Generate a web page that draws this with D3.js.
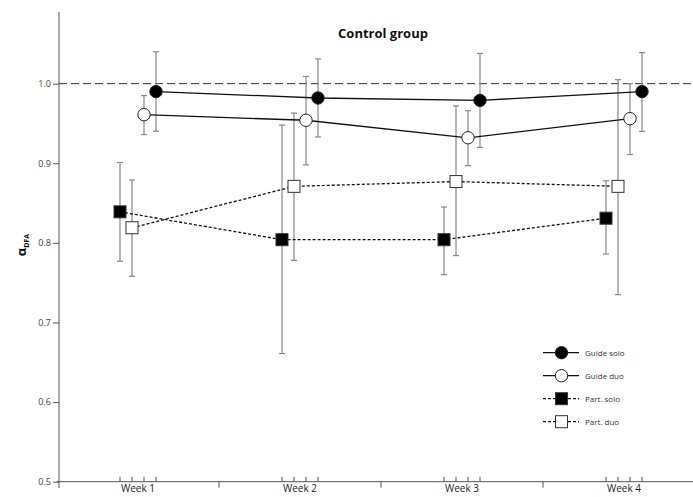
<!DOCTYPE html>
<html><head><meta charset="utf-8">
<script src="https://cdn.jsdelivr.net/npm/d3@7"></script>
<style>body{margin:0;background:#fff}svg{display:block}</style>
</head><body>
<svg id="c" width="693" height="497"></svg>
<script>
const weeks = ["Week 1","Week 2","Week 3","Week 4"];
const yTicks = [0.5,0.6,0.7,0.8,0.9,1.0];
const seriesNames = ["Part. solo","Part. duo","Guide duo","Guide solo"];
const guideSolo     = [0.990,0.982,0.979,0.990];
const guideSoloHi   = [1.040,1.031,1.038,1.039];
const guideSoloLo   = [0.940,0.933,0.920,0.940];
const guideDuo      = [0.961,0.954,0.932,0.956];
const guideDuoHi    = [0.985,1.009,0.966,1.000];
const guideDuoLo    = [0.936,0.898,0.897,0.911];
const partSolo      = [0.839,0.804,0.804,0.831];
const partSoloHi    = [0.901,0.948,0.845,0.878];
const partSoloLo    = [0.777,0.661,0.760,0.786];
const partDuo       = [0.819,0.871,0.877,0.871];
const partDuoHi     = [0.879,0.963,0.972,1.005];
const partDuoLo     = [0.758,0.778,0.784,0.735];

const series = [
  {name:"Guide solo", v:guideSolo, hi:guideSoloHi, lo:guideSoloLo, shape:"circle", fill:"#000", dash:null},
  {name:"Guide duo",  v:guideDuo,  hi:guideDuoHi,  lo:guideDuoLo,  shape:"circle", fill:"#fff", dash:null},
  {name:"Part. solo", v:partSolo,  hi:partSoloHi,  lo:partSoloLo,  shape:"square", fill:"#000", dash:"3,2"},
  {name:"Part. duo",  v:partDuo,   hi:partDuoHi,   lo:partDuoLo,   shape:"square", fill:"#fff", dash:"3,2"}
];

const svg = d3.select("#c");
const x = d3.scaleBand().domain(weeks).range([57,705]);
const off = d3.scalePoint().domain(seriesNames).range([-18,18]);
const y = d3.scaleLinear().domain([0.5,1.09]).range([481.7,12]);
const px = (s,i) => x(weeks[i]) + x.bandwidth()/2 + off(s.name);

// reference line
svg.append("line").attr("x1",59).attr("x2",693).attr("y1",y(1.0)).attr("y2",y(1.0))
  .attr("stroke","#333").attr("stroke-width",1).attr("stroke-dasharray","8,4");

// y axis
const ya = svg.append("g").attr("transform","translate(59,0)")
  .call(d3.axisLeft(y).tickValues(yTicks).tickFormat(d3.format(".1f")).tickSize(6).tickSizeOuter(0));
ya.select(".domain").attr("stroke","#555").attr("d","M0,12V488");
ya.selectAll(".tick line").attr("stroke","#555");
ya.selectAll(".tick text").attr("fill","#444").attr("font-size","9px").attr("font-family","Open Sans, sans-serif").attr("x",-8);

// x axis
const xa = svg.append("g").attr("transform","translate(0,481.7)")
  .call(d3.axisBottom(x).tickSize(0).tickSizeOuter(0));
xa.select(".domain").attr("stroke","#555").attr("d","M57,0H693");
xa.selectAll(".tick text").attr("fill","#222").attr("font-size","10px").attr("font-family","Open Sans, sans-serif")
  .attr("y",3.5).attr("dy","0.71em");
// separator ticks
svg.append("g").selectAll("line").data(weeks.slice(1)).join("line")
  .attr("x1",d=>x(d)).attr("x2",d=>x(d)).attr("y1",y(0.5)).attr("y2",y(0.5)+6)
  .attr("stroke","#555");
// minor ticks for each series position
weeks.forEach((w,i)=>{
  seriesNames.forEach(n=>{
    const xx = x(w)+x.bandwidth()/2+off(n);
    svg.append("line").attr("x1",xx).attr("x2",xx).attr("y1",y(0.5)).attr("y2",y(0.5)-5).attr("stroke","#555");
  });
});

// error bars
series.forEach(s=>{
  const g = svg.append("g").attr("stroke","#888").attr("stroke-width",1.2);
  s.v.forEach((v,i)=>{
    const xx = px(s,i);
    g.append("line").attr("x1",xx).attr("x2",xx).attr("y1",y(s.hi[i])).attr("y2",y(s.lo[i]));
    g.append("line").attr("x1",xx-3).attr("x2",xx+3).attr("y1",y(s.hi[i])).attr("y2",y(s.hi[i]));
    g.append("line").attr("x1",xx-3).attr("x2",xx+3).attr("y1",y(s.lo[i])).attr("y2",y(s.lo[i]));
  });
});

// lines
series.forEach(s=>{
  const line = d3.line().x((d,i)=>px(s,i)).y(d=>y(d));
  svg.append("path").datum(s.v).attr("d",line).attr("fill","none")
    .attr("stroke","#111").attr("stroke-width",1.3)
    .attr("stroke-dasharray",s.dash);
});

// markers
function marker(g, shape, fill, cx, cy){
  if(shape==="circle"){
    g.append("circle").attr("cx",cx).attr("cy",cy).attr("r",6.2)
      .attr("fill",fill).attr("stroke","#222").attr("stroke-width",1);
  } else {
    g.append("rect").attr("x",cx-6).attr("y",cy-6).attr("width",12).attr("height",12)
      .attr("fill",fill).attr("stroke","#333").attr("stroke-width",1);
  }
}
series.forEach(s=>{
  const g = svg.append("g");
  s.v.forEach((v,i)=>marker(g,s.shape,s.fill,px(s,i),y(v)));
});

// title
svg.append("text").attr("x",383).attr("y",38).attr("text-anchor","middle")
  .attr("font-family","Open Sans, sans-serif").attr("font-weight","bold").attr("font-size","13px")
  .attr("fill","#111").text("Control group");

// y label
const yl = svg.append("text").attr("transform","translate(26,245) rotate(-90)")
  .attr("text-anchor","middle").attr("font-family","Open Sans, sans-serif").attr("font-weight","bold").attr("fill","#111");
yl.append("tspan").attr("font-size","13px").text("α");
yl.append("tspan").attr("font-size","7px").attr("dy","3").text("DFA");

// legend
const lg = svg.append("g");
series.forEach((s,k)=>{
  const ly = 352.7 + k*23;
  lg.append("line").attr("x1",543).attr("x2",579).attr("y1",ly).attr("y2",ly)
    .attr("stroke","#111").attr("stroke-width",1.2).attr("stroke-dasharray",s.dash);
  marker(lg,s.shape,s.fill,561.5,ly);
  lg.append("text").attr("x",585).attr("y",ly+3).attr("font-size","8px")
    .attr("font-family","Open Sans, sans-serif").attr("fill","#333").text(s.name);
});
</script>
</body></html>
